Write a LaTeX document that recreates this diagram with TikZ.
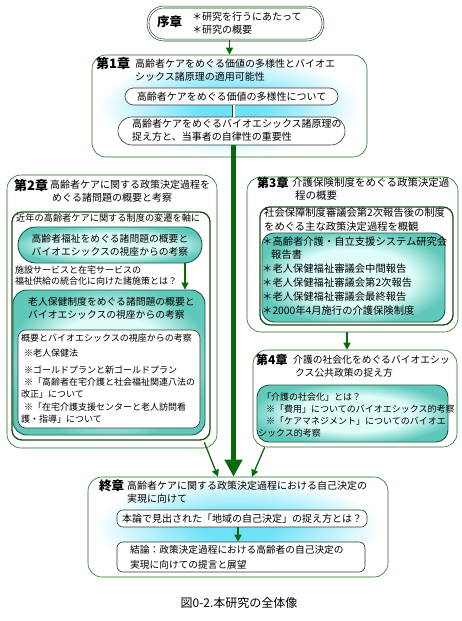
\documentclass[tikz,border=0pt]{standalone}
\usepackage{fontspec}
\setmainfont{Noto Sans CJK JP}
\usetikzlibrary{arrows.meta,calc}
\definecolor{dkg}{RGB}{30,110,30}
\definecolor{arr}{RGB}{10,105,10}
\definecolor{tealo}{RGB}{95,200,186}
\definecolor{teali}{RGB}{222,253,249}
\definecolor{tealb}{RGB}{25,90,60}
\definecolor{cy}{RGB}{110,225,248}
\pgfdeclareradialshading{tealsh}{\pgfpoint{0bp}{0bp}}{color(0bp)=(teali); color(16bp)=(teali); color(27bp)=(tealo); color(50bp)=(tealo)}
\pgfdeclareradialshading{cysh}{\pgfpoint{0bp}{0bp}}{color(0bp)=(cy); color(6bp)=(cy); color(24bp)=(white); color(50bp)=(white)}
\begin{document}
\begin{tikzpicture}[x=1pt,y=-1pt,
  chap/.style={draw=dkg, line width=0.6pt, rounded corners=14pt, fill=white, inner sep=0},
  chapsh/.style={draw=dkg, line width=0.6pt, rounded corners=14pt, shading=cysh, inner sep=0},
  frame/.style={draw=dkg!70!black, line width=1.3pt, rounded corners=10pt, fill=white, inner sep=0},
  tealbox/.style={draw=tealb, line width=0.9pt, shading=tealsh, inner sep=0},
  wbox/.style={draw=black!80, line width=0.6pt, fill=white, inner sep=0},
  tx/.style={anchor=west, inner sep=0, font=\fontsize{10}{12}\selectfont},
  ttl/.style={anchor=west, inner sep=0, font=\fontsize{13}{14}\selectfont\bfseries},
  thinarr/.style={draw=arr, line width=1.3pt, -{Triangle[width=7pt,length=7pt]}},
  thickarr/.style={draw=arr, line width=5pt, -{Triangle[width=17pt,length=17pt]}}
]
\useasboundingbox[fill=white] (0,0) rectangle (462,621);

% ---------- boxes ----------
\node[draw=dkg!60!black, line width=0.6pt, double=white, double distance=1.3pt, rounded corners=16pt, fill=white, inner sep=0,
      minimum width=175pt, minimum height=33pt] (jo) at (235.5,23.5) {};
\node[chapsh, minimum width=275pt, minimum height=102pt] (ch1) at (229.5,106) {};
\node[wbox, rounded corners=8.5pt, minimum width=213pt, minimum height=17pt, font=\fontsize{10}{12}\selectfont] (p1) at (231.5,96.5) {高齢者ケアをめぐる価値の多様性について};
\node[wbox, rounded corners=14pt, minimum width=227pt, minimum height=28pt] (p2) at (231.5,131) {};

\node[chap, minimum width=210pt, minimum height=273pt] (ch2) at (112,311.5) {};
\node[frame, minimum width=198pt, minimum height=228pt] (kin) at (111,326) {};
\node[tealbox, rounded corners=18pt, minimum width=184pt, minimum height=36pt] (t1) at (110,245) {};
\node[tealbox, rounded corners=14pt, minimum width=192pt, minimum height=145pt] (t2) at (109,362.5) {};
\node[wbox, rounded corners=8pt, minimum width=182pt, minimum height=98pt] (wb) at (109,379) {};

\node[chap, minimum width=211pt, minimum height=155pt] (ch3) at (352.5,254.5) {};
\node[frame, minimum width=193pt, minimum height=118pt] (sha) at (356.5,266) {};
\node[tealbox, rounded corners=12pt, minimum width=183pt, minimum height=89pt] (t3) at (353.5,277.5) {};

\node[chap, minimum width=204pt, minimum height=97pt] (ch4) at (355,398.5) {};
\node[tealbox, rounded corners=12pt, minimum width=191pt, minimum height=57pt] (t4) at (352.5,413.5) {};

\node[chapsh, minimum width=300pt, minimum height=100pt] (fin) at (238,527) {};
\node[wbox, rounded corners=6pt, minimum width=250pt, minimum height=17pt, font=\fontsize{10}{12}\selectfont] (fp1) at (242,518.5) {本論で見出された「地域の自己決定」の捉え方とは？};
\node[wbox, rounded corners=6pt, minimum width=248pt, minimum height=30pt] (fp2) at (241,557) {};

% ---------- texts ----------
\node[ttl, font=\fontsize{12.5}{14}\selectfont\bfseries] (jot) at (157,22) {序章};
\node[tx] (jo1) at (192,17) {＊研究を行うにあたって};
\node[tx] (jo2) at (192,30) {＊研究の概要};

\node[ttl] (c1t) at (96,63.5) {第1章};
\node[tx] (c1a) at (135,64) {高齢者ケアをめぐる価値の多様性とバイオエ};
\node[tx] (c1b) at (135,77) {シックス諸原理の適用可能性};
\node[tx] (p2a) at (132,124) {高齢者ケアをめぐるバイオエシックス諸原理の};
\node[tx] (p2b) at (132,137) {捉え方と、当事者の自律性の重要性};

\node[ttl] (c2t) at (14,185) {第2章};
\node[tx] (c2a) at (50,185) {高齢者ケアに関する政策決定過程を};
\node[tx] (c2b) at (52,197.5) {めぐる諸問題の概要と考察};
\node[tx, font=\fontsize{9.2}{11}\selectfont] (kina) at (16,218) {近年の高齢者ケアに関する制度の変遷を軸に};
\node[inner sep=0, font=\fontsize{9.8}{12}\selectfont] (t1a) at (110,238.5) {高齢者福祉をめぐる諸問題の概要と};
\node[inner sep=0, font=\fontsize{9.8}{12}\selectfont] (t1b) at (110,252) {バイオエシックスの視座からの考察};
\node[tx, font=\fontsize{9}{11}\selectfont] (sa) at (15,270) {施設サービスと在宅サービスの};
\node[tx, font=\fontsize{9}{11}\selectfont] (sb) at (15,281.5) {福祉供給の統合化に向けた諸施策とは？};
\node[tx, font=\fontsize{9.8}{12}\selectfont] (t2a) at (28,302) {老人保健制度をめぐる諸問題の概要と};
\node[tx, font=\fontsize{9.8}{12}\selectfont] (t2b) at (28,315) {バイオエシックスの視座からの考察};
\begin{scope}[every node/.style={tx, font=\fontsize{9}{11}\selectfont}]
\node (w1) at (21,338) {概要とバイオエシックスの視座からの考察};
\node (w2) at (24,353) {※老人保健法};
\node (w3) at (24,370) {※ゴールドプランと新ゴールドプラン};
\node (w4) at (24,382) {※「高齢者在宅介護と社会福祉関連八法の};
\node (w5) at (21,394) {改正」について};
\node (w6) at (24,407) {※「在宅介護支援センターと老人訪問看};
\node (w7) at (21,419) {護・指導」について};
\end{scope}

\node[ttl, font=\fontsize{12}{14}\selectfont\bfseries] (c3t) at (257,183) {第3章};
\node[tx, font=\fontsize{10.5}{12}\selectfont] (c3a) at (292,183) {介護保険制度をめぐる政策決定過};
\node[tx, font=\fontsize{10.5}{12}\selectfont] (c3b) at (295,196) {程の概要};
\node[tx, font=\fontsize{10.3}{12}\selectfont] (sh1) at (264,213) {社会保障制度審議会第2次報告後の制度};
\node[tx, font=\fontsize{10.3}{12}\selectfont] (sh2) at (264,227) {をめぐる主な政策決定過程を概観};
\begin{scope}[every node/.style={tx, font=\fontsize{10.3}{12}\selectfont}]
\node (t3a) at (262,242) {＊高齢者介護・自立支援システム研究会};
\node (t3b) at (271,255) {報告書};
\node (t3c) at (262,269) {＊老人保健福祉審議会中間報告};
\node (t3d) at (262,283) {＊老人保健福祉審議会第2次報告};
\node (t3e) at (262,297) {＊老人保健福祉審議会最終報告};
\node (t3f) at (262,311) {＊2000年4月施行の介護保険制度};
\end{scope}

\node[ttl, font=\fontsize{12}{14}\selectfont\bfseries] (c4t) at (256,360) {第4章};
\node[tx, font=\fontsize{9.8}{12}\selectfont] (c4a) at (293,360) {介護の社会化をめぐるバイオエシッ};
\node[tx, font=\fontsize{9.8}{12}\selectfont] (c4b) at (295,373) {クス公共政策の捉え方};
\begin{scope}[every node/.style={tx, font=\fontsize{9}{11}\selectfont}]
\node (t4a) at (262,397) {「介護の社会化」とは？};
\node (t4b) at (266,409) {※「費用」についてのバイオエシックス的考察};
\node (t4c) at (266,421) {※「ケアマネジメント」についてのバイオエ};
\node (t4d) at (258,433) {シックス的考察};
\end{scope}

\node[ttl, font=\fontsize{12.5}{14}\selectfont\bfseries] (fint) at (99,486) {終章};
\node[tx] (fa) at (127,486) {高齢者ケアに関する政策決定過程における自己決定の};
\node[tx] (fb) at (127,499) {実現に向けて};
\node[tx, font=\fontsize{9.7}{12}\selectfont] (f2a) at (130,550) {結論：政策決定過程における高齢者の自己決定の};
\node[tx, font=\fontsize{9.7}{12}\selectfont] (f2b) at (130,565) {実現に向けての提言と展望};

\node[inner sep=0, font=\fontsize{12}{14}\selectfont] (cap) at (239,603) {図0-2.本研究の全体像};

% ---------- connectors ----------
\draw[thinarr] ([xshift=-6pt]jo.south) -- ([xshift=-6pt]jo.south |- ch1.north);
\draw[black!80, line width=0.5pt, double=white, double distance=2pt] ([xshift=2pt]p1.south) -- ([xshift=2pt]p1.south |- p2.north);
\draw[thickarr] ([xshift=2pt]p2.south) -- ([xshift=2pt]p2.south |- fin.north);
\draw[thinarr] ([xshift=75pt]t1.south) -- ([xshift=75pt]t1.south |- t2.north);
\draw[thinarr] ([xshift=-5.5pt]ch3.south) -- ([xshift=-5.5pt]ch3.south |- ch4.north);
\draw[thinarr] ($(ch2.south east)+(-13,-6)$) -- ([xshift=-20pt]fin.north);
\draw[thinarr] ($(ch4.south west)+(12,0)$) -- ([xshift=14pt]fin.north);
\draw[thinarr] ([xshift=-4pt]fp1.south) -- ([xshift=-4pt]fp1.south |- fp2.north);
\end{tikzpicture}
\end{document}
